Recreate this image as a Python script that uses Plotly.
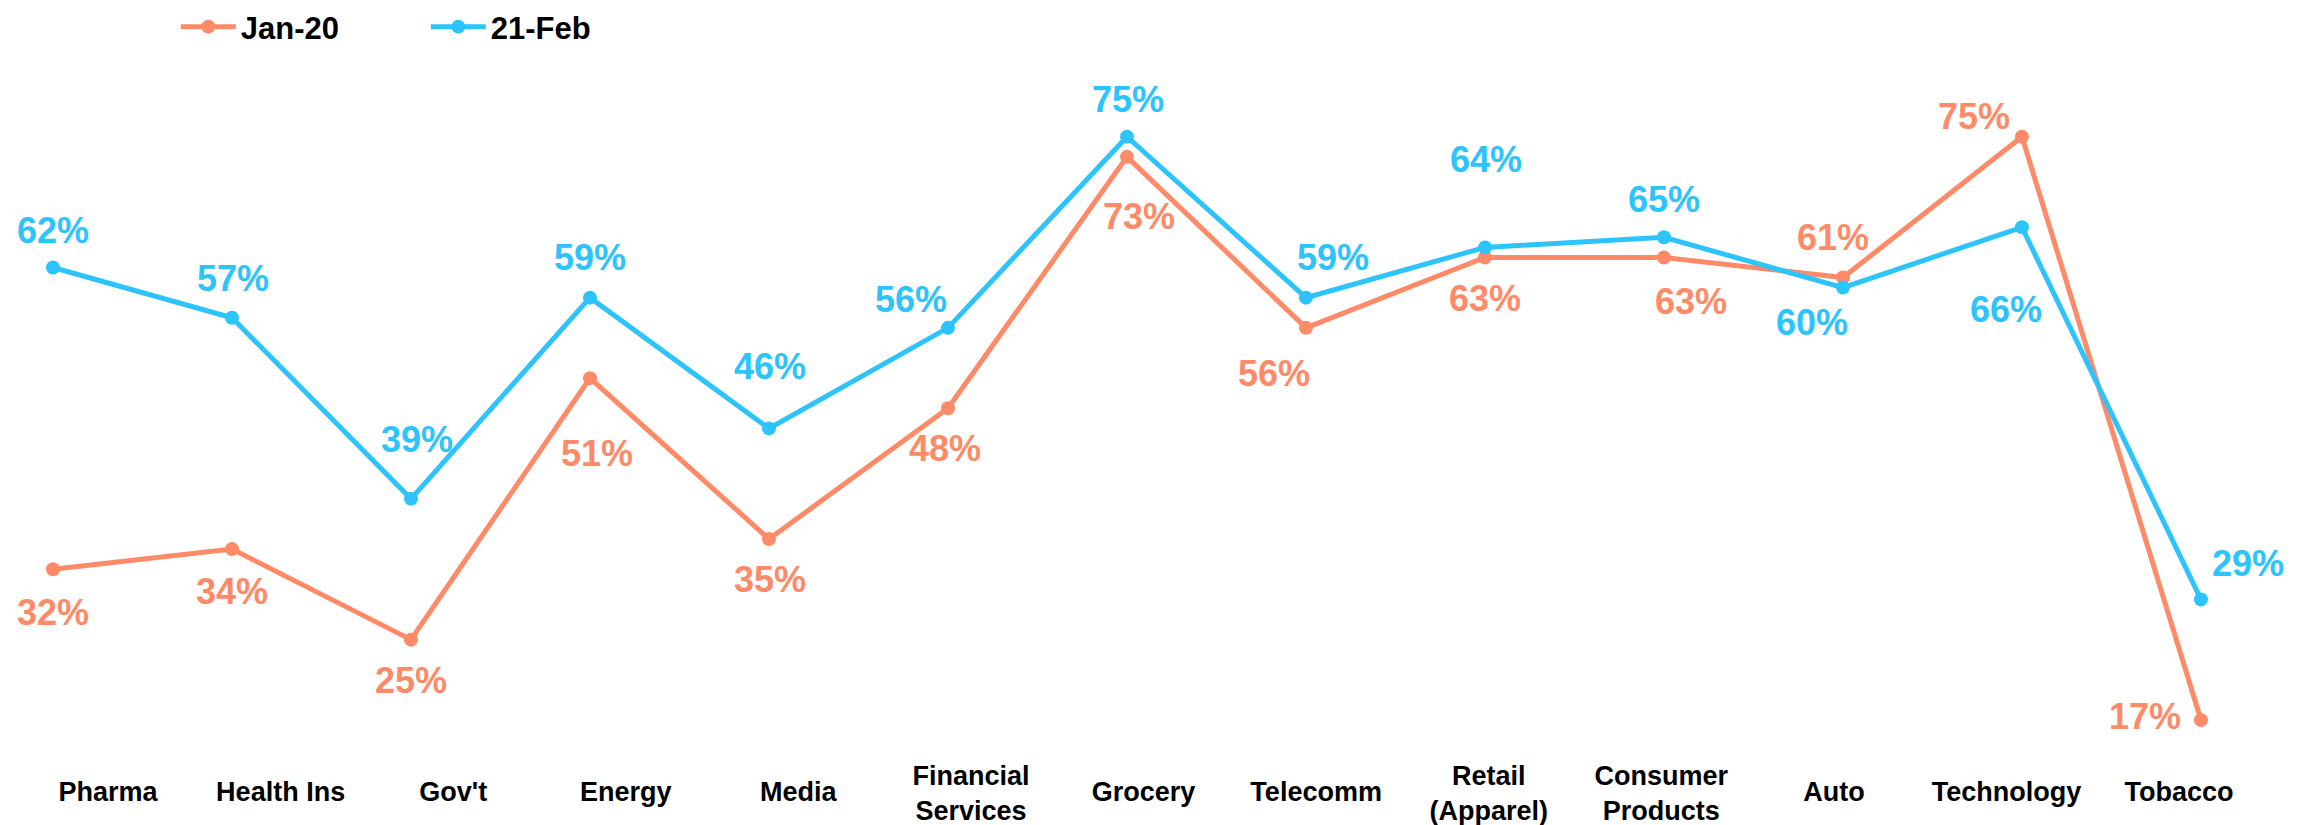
import plotly.graph_objects as go

# Categories and values (percent)
categories = ["Pharma", "Health Ins", "Gov't", "Energy", "Media",
              "Financial<br>Services", "Grocery", "Telecomm",
              "Retail<br>(Apparel)", "Consumer<br>Products", "Auto",
              "Technology", "Tobacco"]
jan20 = [32, 34, 25, 51, 35, 48, 73, 56, 63, 63, 61, 75, 17]
feb21 = [62, 57, 39, 59, 46, 56, 75, 59, 64, 65, 60, 66, 29]
series_names = ["Jan-20", "21-Feb"]

ORANGE = "#FF8A67"
BLUE = "#2DC3FC"
FONT = "Liberation Sans, Arial, sans-serif"

# label offsets in px (dx, dy), dy positive = down
jan_offsets = [(0, 43), (0, 42), (0, 41), (7, 75), (1, 40), (-3, 40), (12, 60),
               (-32, 46), (0, 41), (27, 44), (-10, -40), (-48, -20), (-56, -4)]
feb_offsets = [(0, -37), (1, -39), (6, -59), (0, -40), (1, -62), (-37, -28),
               (1, -37), (27, -40), (1, -88), (0, -38), (-31, 35), (-16, 82),
               (47, -36)]

fig = go.Figure()
for name, vals, col in [(series_names[0], jan20, ORANGE), (series_names[1], feb21, BLUE)]:
    fig.add_scatter(x=categories, y=vals, name=name, mode="lines+markers",
                    line=dict(color=col, width=5),
                    marker=dict(color=col, size=14),
                    hoverinfo="skip")

# invisible traces carrying the category label axes
for ax in ["x2", "x3"]:
    fig.add_scatter(x=categories, y=jan20, xaxis=ax, mode="none",
                    showlegend=False, hoverinfo="skip")

one_line = [c for c in categories if "<br>" not in c]
two_line = [c for c in categories if "<br>" in c]

annotations = []
for vals, offs, col in [(jan20, jan_offsets, ORANGE), (feb21, feb_offsets, BLUE)]:
    for c, v, (dx, dy) in zip(categories, vals, offs):
        annotations.append(dict(x=c, y=v, xref="x", yref="y", text=f"{v}%",
                                showarrow=False, xshift=dx, yshift=-dy,
                                font=dict(family=FONT, size=36, color=col, weight="bold")))

label_axis = dict(type="category", overlaying="x", side="bottom", anchor="y",
                  range=[-0.626, 12.776], showgrid=False, zeroline=False,
                  showline=False, ticks="",
                  tickfont=dict(family=FONT, size=27, color="black", weight="bold"))

fig.update_layout(
    width=2313, height=825,
    margin=dict(l=0, r=0, t=0, b=68),
    plot_bgcolor="white", paper_bgcolor="white",
    annotations=annotations,
    showlegend=True,
    legend=dict(orientation="h", x=0.076, xanchor="left", y=1.01, yanchor="top",
                font=dict(family=FONT, size=31, color="black", weight="bold"),
                itemwidth=55, entrywidth=180, entrywidthmode="pixels",
                bgcolor="rgba(0,0,0,0)"),
    xaxis=dict(type="category", range=[-0.296, 12.626], showticklabels=False,
               showgrid=False, zeroline=False, showline=False, ticks=""),
    xaxis2=dict(label_axis, tickvals=one_line, ticktext=one_line, ticklabelstandoff=16),
    xaxis3=dict(label_axis, tickvals=two_line, ticktext=two_line),
    yaxis=dict(range=[13.33, 87.9], visible=False, showgrid=False, zeroline=False),
)

fig.write_html("out.html", config={"displayModeBar": False},
               post_script="document.body.style.margin='0';")
